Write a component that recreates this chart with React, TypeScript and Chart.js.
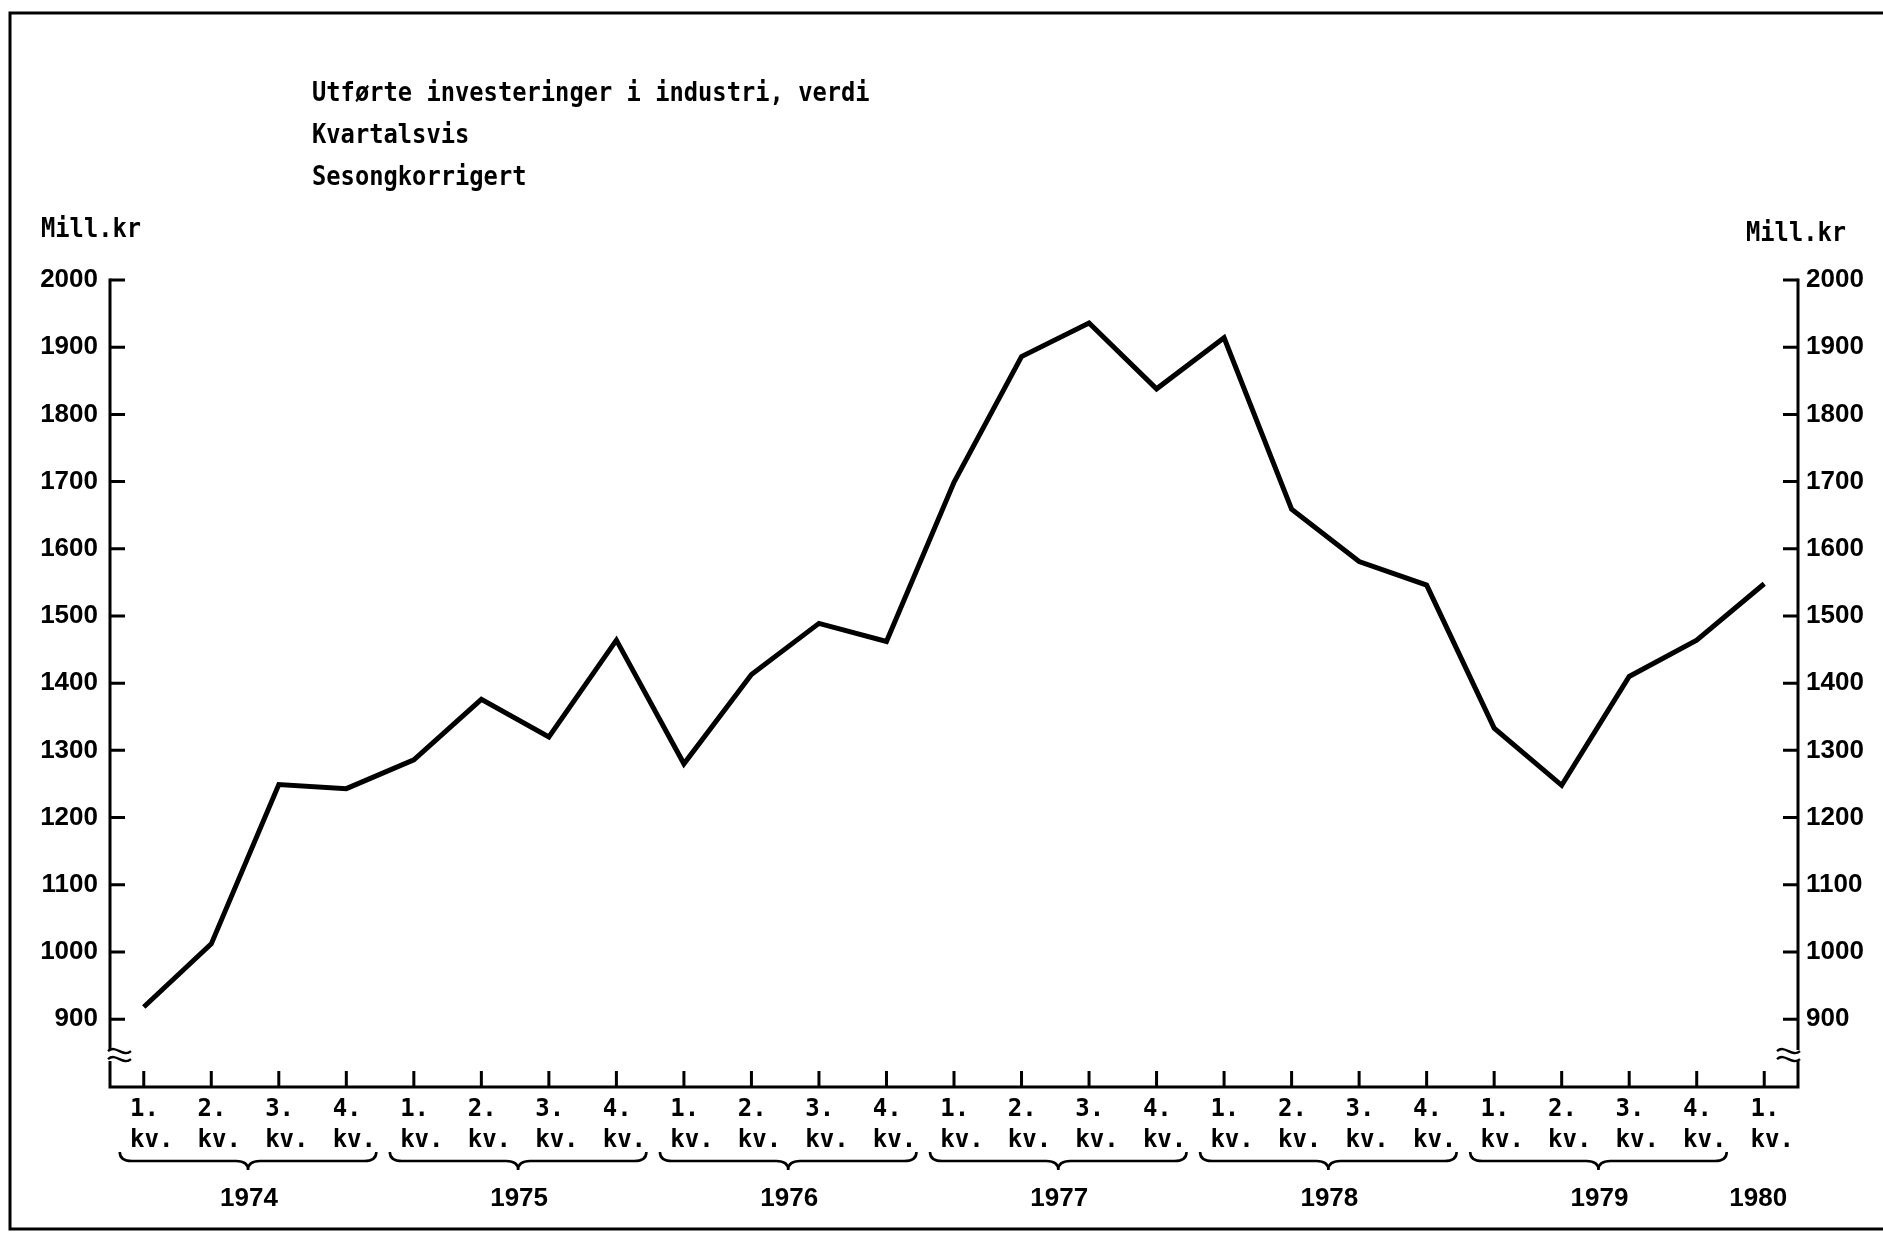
import React, { useEffect, useRef } from 'react';
import { Chart, registerables } from 'chart.js';

Chart.register(...registerables);

// ---- Data ----
const quarterLabels = [
  '1.', '2.', '3.', '4.',
  '1.', '2.', '3.', '4.',
  '1.', '2.', '3.', '4.',
  '1.', '2.', '3.', '4.',
  '1.', '2.', '3.', '4.',
  '1.', '2.', '3.', '4.',
  '1.',
];
const quarterSuffix = 'kv.';
const yearLabels = ['1974', '1975', '1976', '1977', '1978', '1979', '1980'];
const quartersPerYear = [4, 4, 4, 4, 4, 4, 1];
const investment = [
  918, 1012, 1249, 1243,
  1286, 1376, 1320, 1464,
  1280, 1413, 1489, 1462,
  1699, 1886, 1936, 1838,
  1914, 1659, 1581, 1546,
  1333, 1248, 1410, 1464,
  1548,
];
const yTickValues = [900, 1000, 1100, 1200, 1300, 1400, 1500, 1600, 1700, 1800, 1900, 2000];
const titleLines = ['Utførte investeringer i industri, verdi', 'Kvartalsvis', 'Sesongkorrigert'];
const unitLabel = 'Mill.kr';
const Y_MIN = 799;
const Y_MAX = 2000;
const BREAK_VALUE = 845;

const MONO = '"DejaVu Sans Mono", monospace';
const SANS = '"Liberation Sans", Arial, sans-serif';

function tilde(ctx: CanvasRenderingContext2D, x0: number, x1: number, y: number) {
  const w = x1 - x0;
  ctx.beginPath();
  ctx.moveTo(x0, y);
  ctx.bezierCurveTo(x0 + w * 0.35, y - 7, x0 + w * 0.65, y + 7, x1, y);
  ctx.stroke();
}

function brace(ctx: CanvasRenderingContext2D, x0: number, x1: number, yTop: number, yH: number, yTip: number) {
  const xc = (x0 + x1) / 2;
  ctx.beginPath();
  ctx.moveTo(x0, yTop);
  ctx.quadraticCurveTo(x0, yH, x0 + 12, yH);
  ctx.lineTo(xc - 12, yH);
  ctx.quadraticCurveTo(xc, yH, xc, yTip);
  ctx.quadraticCurveTo(xc, yH, xc + 12, yH);
  ctx.lineTo(x1 - 12, yH);
  ctx.quadraticCurveTo(x1, yH, x1, yTop);
  ctx.stroke();
}

function tallText(ctx: CanvasRenderingContext2D, text: string, x: number, y: number, sy: number) {
  ctx.save();
  ctx.translate(x, y);
  ctx.scale(1, sy);
  ctx.fillText(text, 0, 0);
  ctx.restore();
}

const decorPlugin = {
  id: 'decor',
  afterDraw(chart: any) {
    const ctx: CanvasRenderingContext2D = chart.ctx;
    const { left, right, bottom } = chart.chartArea;
    const xs = chart.scales.x;
    const ys = chart.scales.y;
    ctx.save();
    ctx.strokeStyle = '#000';
    ctx.fillStyle = '#000';
    ctx.lineCap = 'butt';
    ctx.lineJoin = 'miter';

    // outer frame (open on the right, as in the scan)
    ctx.lineWidth = 3;
    ctx.beginPath();
    ctx.moveTo(1883, 13);
    ctx.lineTo(10, 13);
    ctx.lineTo(10, 1229);
    ctx.lineTo(1883, 1229);
    ctx.stroke();

    // axes with break gaps
    const yTop = ys.getPixelForValue(Y_MAX);
    const yBr = ys.getPixelForValue(BREAK_VALUE);
    ctx.lineWidth = 3;
    ctx.beginPath();
    ctx.moveTo(left, yTop - 1.5);
    ctx.lineTo(left, yBr - 6);
    ctx.moveTo(left, yBr + 5);
    ctx.lineTo(left, bottom);
    ctx.lineTo(right, bottom);
    ctx.lineTo(right, yBr + 5);
    ctx.moveTo(right, yBr - 6);
    ctx.lineTo(right, yTop - 1.5);
    ctx.stroke();

    // break squiggles
    ctx.lineWidth = 2.4;
    tilde(ctx, left - 2, left + 21, yBr - 5);
    tilde(ctx, left - 2, left + 21, yBr + 3);
    tilde(ctx, right - 21, right + 2, yBr - 5);
    tilde(ctx, right - 21, right + 2, yBr + 3);

    // y tick marks (inward)
    ctx.lineWidth = 3;
    ctx.beginPath();
    for (const v of yTickValues) {
      const py = ys.getPixelForValue(v);
      ctx.moveTo(left, py);
      ctx.lineTo(left + 15, py);
      ctx.moveTo(right, py);
      ctx.lineTo(right - 15, py);
    }
    ctx.stroke();

    // x tick marks (upward)
    ctx.lineWidth = 3;
    ctx.beginPath();
    for (let i = 0; i < quarterLabels.length; i++) {
      const px = xs.getPixelForValue(i);
      ctx.moveTo(px, bottom);
      ctx.lineTo(px, bottom - 16);
    }
    ctx.stroke();

    // year braces and labels
    ctx.font = `bold 26px ${SANS}`;
    ctx.textAlign = 'center';
    ctx.textBaseline = 'alphabetic';
    let idx = 0;
    for (let k = 0; k < yearLabels.length; k++) {
      const n = quartersPerYear[k];
      const first = xs.getPixelForValue(idx);
      const last = xs.getPixelForValue(idx + n - 1);
      if (n > 1) {
        ctx.lineWidth = 2.6;
        brace(ctx, first - 24, last + 30, 1152, 1161, 1170);
        ctx.fillText(yearLabels[k], (first + last) / 2 + 4, 1206);
      } else {
        ctx.fillText(yearLabels[k], first - 6, 1206);
      }
      idx += n;
    }

    // titles
    ctx.font = `bold 23.75px ${MONO}`;
    ctx.textAlign = 'left';
    ctx.textBaseline = 'alphabetic';
    tallText(ctx, titleLines[0], 312, 101, 1.15);
    tallText(ctx, titleLines[1], 312, 143, 1.15);
    tallText(ctx, titleLines[2], 312, 185, 1.15);
    tallText(ctx, unitLabel, 41, 237, 1.15);
    tallText(ctx, unitLabel, 1746, 241, 1.15);

    ctx.restore();
  },
};

export default function App() {
  const canvasRef = useRef<HTMLCanvasElement | null>(null);

  useEffect(() => {
    document.body.style.margin = '0';
    document.body.style.overflow = 'hidden';
    const canvas = canvasRef.current;
    if (!canvas) return;

    const yTickCallback = (v: any) => String(v);
    const chart = new Chart(canvas, {
      type: 'line',
      data: {
        labels: quarterLabels.map((q) => [q + ' ', quarterSuffix]),
        datasets: [
          {
            label: titleLines[0],
            data: investment,
            borderColor: '#000',
            backgroundColor: '#000',
            borderWidth: 5,
            pointRadius: 0,
            tension: 0,
            fill: false,
            yAxisID: 'y',
          },
        ],
      },
      options: {
        animation: false,
        responsive: false,
        devicePixelRatio: 1,
        layout: { padding: { left: 0, right: 0, top: 280, bottom: 0 } },
        plugins: {
          legend: { display: false },
          title: { display: false },
          tooltip: { enabled: false },
        },
        scales: {
          x: {
            type: 'category',
            offset: true,
            grid: { display: false, drawTicks: false },
            border: { display: false },
            ticks: {
              autoSkip: false,
              maxRotation: 0,
              minRotation: 0,
              padding: 7,
              labelOffset: 8,
              color: '#000',
              font: { family: MONO, size: 24, weight: 'bold', lineHeight: 1.3 },
            },
            afterFit: (scale: any) => {
              scale.height = 148;
            },
          },
          y: {
            type: 'linear',
            position: 'left',
            min: Y_MIN,
            max: Y_MAX,
            grid: { display: false, drawTicks: false },
            border: { display: false },
            ticks: {
              padding: 12,
              color: '#000',
              font: { family: SANS, size: 26, weight: 'bold' },
              callback: yTickCallback,
            },
            afterBuildTicks: (scale: any) => {
              scale.ticks = yTickValues.map((v) => ({ value: v }));
            },
            afterFit: (scale: any) => {
              scale.width = 110;
            },
          },
          y2: {
            type: 'linear',
            position: 'right',
            min: Y_MIN,
            max: Y_MAX,
            grid: { display: false, drawTicks: false },
            border: { display: false },
            ticks: {
              padding: 8,
              color: '#000',
              font: { family: SANS, size: 26, weight: 'bold' },
              callback: yTickCallback,
            },
            afterBuildTicks: (scale: any) => {
              scale.ticks = yTickValues.map((v) => ({ value: v }));
            },
            afterFit: (scale: any) => {
              scale.width = 85;
            },
          },
        },
      } as any,
      plugins: [decorPlugin],
    });

    let alive = true;
    if ((document as any).fonts && (document as any).fonts.load) {
      Promise.all([
        (document as any).fonts.load(`bold 24px ${MONO}`),
        (document as any).fonts.load(`bold 26px ${SANS}`),
      ])
        .then(() => {
          if (alive) chart.update();
        })
        .catch(() => {});
    }

    return () => {
      alive = false;
      chart.destroy();
    };
  }, []);

  return (
    <div style={{ position: 'fixed', left: 0, top: 0, width: 1883, height: 1235, background: '#fff' }}>
      <canvas ref={canvasRef} width={1883} height={1235} style={{ display: 'block' }} />
    </div>
  );
}
